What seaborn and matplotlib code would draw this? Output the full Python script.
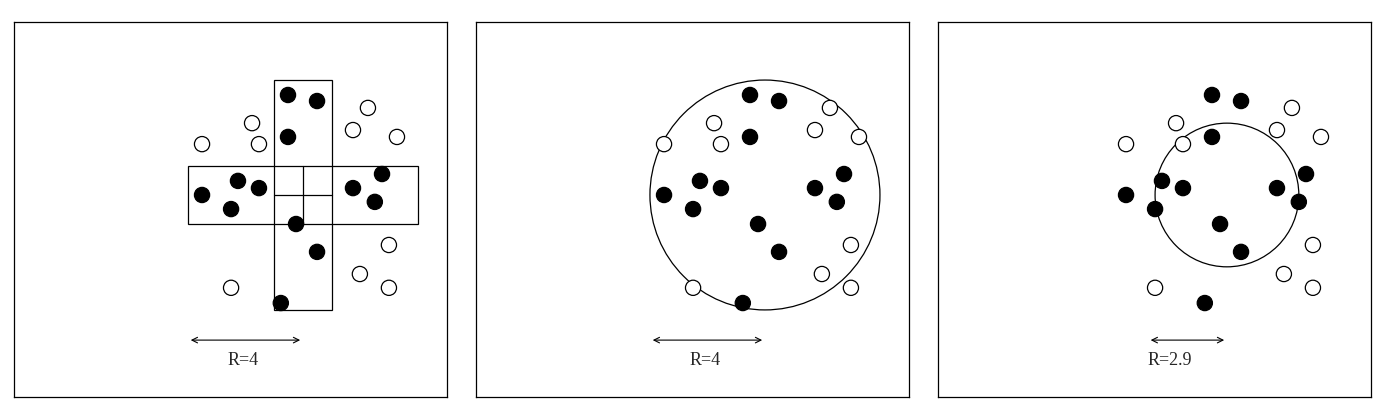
import numpy as np
import pandas as pd
import seaborn as sns
import matplotlib.pyplot as plt
from matplotlib.patches import Rectangle, Circle

sns.set_style("white")
plt.rcParams['font.family'] = ['Liberation Serif', 'DejaVu Serif']

# point positions in grid units, centre of the query at (0, 0)
filled_x = [-0.52, 0.49, -0.52, -3.51, -2.26, -1.53, -2.5, 1.74, 2.75, 2.5, -0.24, 0.49, -0.77]
filled_y = [3.48, 3.27, 2.02, 0.0, 0.49, 0.24, -0.49, 0.24, 0.73, -0.24, -1.01, -1.98, -3.76]
open_x = [-3.51, -1.77, -1.53, 1.74, 2.26, 3.27, 2.99, 1.98, 2.99, -2.5]
open_y = [1.77, 2.5, 1.77, 2.26, 3.03, 2.02, -1.74, -2.75, -3.23, -3.23]

shapes = ["cross", "circle", "circle"]
radii = [4, 4, 2.5]
arrow_len = [4, 4, 2.75]
labels = ["R=4", "R=4", "R=2.9"]
label_x = [-2.09, -2.09, -1.98]

df = pd.DataFrame({
    "x": filled_x + open_x,
    "y": filled_y + open_y,
    "kind": ["filled"] * len(filled_x) + ["open"] * len(open_x),
})

fig = plt.figure(figsize=(13.85, 4.18), dpi=100)
lefts = [14, 476, 938]

for i in range(3):
    ax = fig.add_axes([lefts[i] / 1385, 21 / 418, 433 / 1385, 375 / 418])
    ax.set_xlim(-10.05, 5.01)
    ax.set_ylim(-7.03, 6.02)

    if shapes[i] == "cross":
        ax.add_patch(Rectangle((-4, -1), 8, 2, fill=False, lw=0.9, color="black"))
        ax.add_patch(Rectangle((-1, -4), 2, 8, fill=False, lw=0.9, color="black"))
        ax.plot([-1, 1], [0, 0], color="black", lw=0.9)
        ax.plot([0, 0], [-1, 1], color="black", lw=0.9)
    else:
        ax.add_patch(Circle((0, 0), radii[i], fill=False, lw=0.9, color="black"))

    sns.scatterplot(data=df, x="x", y="y", hue="kind", palette={"filled": "black", "open": "white"},
                    edgecolor="black", linewidth=0.9, s=120, legend=False, ax=ax, zorder=3)

    ax.annotate("", xy=(-arrow_len[i], -5.05), xytext=(0, -5.05),
                arrowprops=dict(arrowstyle="<->", lw=0.8, color="black"))
    ax.text(label_x[i], -5.75, labels[i], ha="center", va="center", fontsize=13)

    ax.set_xticks([])
    ax.set_yticks([])
    ax.set_xlabel("")
    ax.set_ylabel("")
    for sp in ax.spines.values():
        sp.set_color("black")
        sp.set_linewidth(0.9)

fig.savefig("out.png", dpi=100)
